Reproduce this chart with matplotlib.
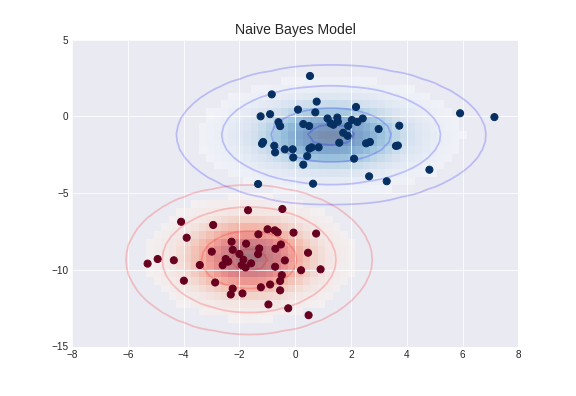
import numpy as np
import matplotlib
matplotlib.use("Agg")
import matplotlib.pyplot as plt

# points (class 0 = red, class 1 = blue)
red_x = [-4.09, -2.94, -3.89, -5.29, -4.93, -4.35, -3.42, -2.99, -3.99, -2.87,
         -2.24, -2.31, -2.28, -1.76, -2.24, -2.00, -2.49, -2.40, -2.60, -1.86,
         -1.92, -1.78, -1.58, -1.69, -0.46, -1.32, -0.99, -0.73, -0.63, -0.06,
         0.75, -1.29, -1.33, -0.51, -0.71, 0.46, -0.37, -0.72, 0.21, 0.91,
         -0.48, -1.23, -0.90, -0.54, -0.54, -1.89, -0.96, -0.25, 0.48]
red_y = [-6.87, -7.08, -7.91, -9.60, -9.30, -9.38, -9.69, -8.82, -10.71, -10.83,
         -11.23, -11.61, -8.17, -8.30, -8.70, -8.97, -9.30, -9.47, -9.70, -9.34,
         -9.69, -9.85, -9.58, -6.12, -6.04, -7.69, -7.36, -7.43, -7.56, -7.58,
         -7.64, -8.61, -8.98, -8.35, -8.63, -8.89, -9.39, -9.80, -10.03, -9.97,
         -10.35, -11.14, -10.96, -10.73, -11.34, -11.54, -12.26, -12.51, -12.96]

blue_x = [0.53, -0.84, 0.77, 0.10, 0.72, -1.24, -0.90, -0.60, -0.54, 0.29,
          0.50, -1.15, -1.19, -0.75, -0.72, -0.37, -0.09, -0.07, 0.51, 0.59,
          0.84, 0.43, 0.29, -1.33, 0.64, 1.16, 1.51, 1.53, 1.27, 1.37,
          2.03, 2.23, 2.42, 1.90, 1.72, 1.88, 1.58, 2.99, 3.73, 2.54,
          2.68, 3.61, 3.68, 2.11, 2.18, 5.91, 7.14, 4.81, 2.65, 3.28]
blue_y = [2.63, 1.43, 0.96, 0.44, 0.26, 0.00, 0.14, -0.38, -0.64, -0.50,
          -0.63, -1.67, -1.79, -1.92, -2.35, -2.15, -2.15, -2.68, -2.10, -2.02,
          -2.02, -2.59, -3.15, -4.41, -4.39, -0.14, -0.08, -0.35, -0.46, -0.55,
          -0.24, -0.37, -0.14, -0.63, -1.07, -1.27, -1.72, -0.83, -0.61, -1.76,
          -1.67, -1.93, -1.90, -2.76, 0.61, 0.20, -0.05, -3.48, -3.91, -4.23]

xticks = [-8, -6, -4, -2, 0, 2, 4, 6, 8]
yticks = [-15, -10, -5, 0, 5]

X = np.column_stack([red_x + blue_x, red_y + blue_y])
y = np.array([0] * len(red_x) + [1] * len(blue_x))

plt.style.use("seaborn-v0_8-darkgrid")
plt.rcParams["font.family"] = ["Liberation Sans", "DejaVu Sans"]
plt.rcParams["xtick.labelsize"] = 10
plt.rcParams["ytick.labelsize"] = 10

fig, ax = plt.subplots(figsize=(8, 5.5), dpi=72)
fig.subplots_adjust(left=0.125, right=0.9, bottom=0.125, top=0.9)

ax.scatter(X[:, 0], X[:, 1], c=y, s=50, cmap="RdBu", zorder=3)
ax.set_title("Naive Bayes Model", size=14)

xlim = (-8, 8)
ylim = (-15, 5)

xg = np.linspace(xlim[0], xlim[1], 60)
yg = np.linspace(ylim[0], ylim[1], 40)
xx, yy = np.meshgrid(xg, yg)
Xgrid = np.vstack([xx.ravel(), yy.ravel()]).T

for label, color in enumerate(["red", "blue"]):
    mask = y == label
    mu, std = X[mask].mean(0), X[mask].std(0)
    P = np.exp(-0.5 * (Xgrid - mu) ** 2 / std**2).prod(1)
    Pm = np.ma.masked_array(P, P < 0.03)
    ax.pcolorfast(xlim, ylim, Pm.reshape(xx.shape), alpha=0.5,
                  cmap=color.title() + "s")
    ax.contour(xx, yy, P.reshape(xx.shape), levels=[0.01, 0.1, 0.5, 0.9],
               colors=color, alpha=0.2, linewidths=1.75)

ax.set(xlim=xlim, ylim=ylim)
ax.set_xticks(xticks)
ax.set_yticks(yticks)

plt.savefig("out.png", dpi=72)
